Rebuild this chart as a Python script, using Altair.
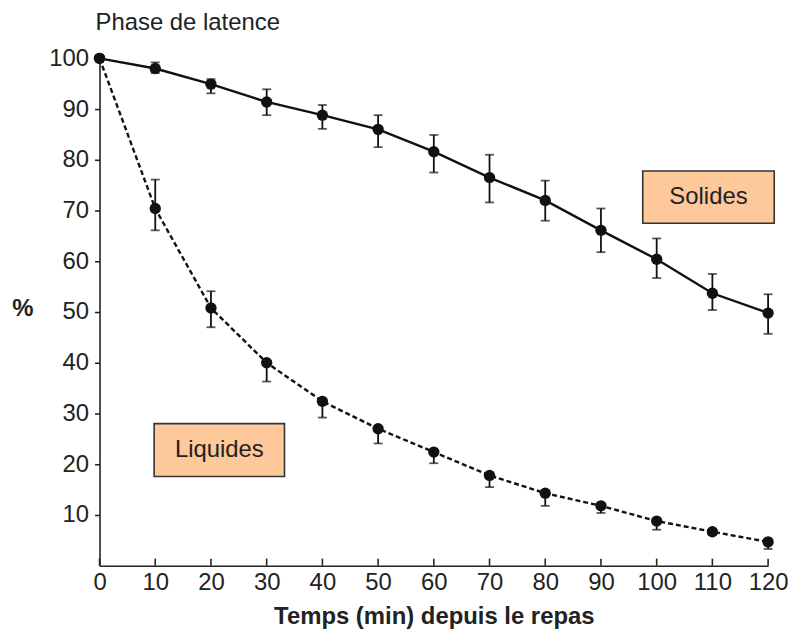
import altair as alt
import pandas as pd

FONT = "Liberation Sans"

minutes = [0, 10, 20, 30, 40, 50, 60, 70, 80, 90, 100, 110, 120]

solid_mean = [100, 98.0, 94.9, 91.4, 88.8, 86.0, 81.6, 76.5, 72.0, 66.1, 60.4, 53.7, 49.8]
solid_low = [100, 97.1, 93.1, 88.8, 86.1, 82.5, 77.5, 71.6, 68.0, 61.8, 56.7, 50.4, 45.7]
solid_high = [100, 99.2, 95.9, 93.9, 90.8, 88.8, 84.9, 81.0, 75.9, 70.4, 64.5, 57.5, 53.5]

liquid_mean = [100, 70.4, 50.8, 40.0, 32.4, 27.0, 22.4, 17.8, 14.3, 11.8, 8.8, 6.7, 4.7]
liquid_low = [100, 66.1, 47.0, 36.3, 29.2, 24.1, 20.2, 15.5, 11.8, 10.4, 7.1, 6.1, 3.3]
liquid_high = [100, 76.1, 54.1, 40.0, 32.4, 27.0, 22.4, 17.8, 14.3, 11.8, 8.8, 6.7, 4.7]

x_ticks = [0, 10, 20, 30, 40, 50, 60, 70, 80, 90, 100, 110, 120]
y_ticks = [10, 20, 30, 40, 50, 60, 70, 80, 90, 100]

labels = ["Solides", "Liquides"]
label_x0 = [97.5, 9.8]
label_x1 = [121.1, 33.2]
label_y0 = [67.5, 17.6]
label_y1 = [77.8, 28.0]

rows = []
for i, t in enumerate(minutes):
    rows.append({"serie": "Solides", "t": t, "v": solid_mean[i], "lo": solid_low[i], "hi": solid_high[i]})
    rows.append({"serie": "Liquides", "t": t, "v": liquid_mean[i], "lo": liquid_low[i], "hi": liquid_high[i]})
df = pd.DataFrame(rows)

boxes = pd.DataFrame({
    "label": labels,
    "x0": label_x0, "x1": label_x1, "y0": label_y0, "y1": label_y1,
})
boxes["xc"] = (boxes["x0"] + boxes["x1"]) / 2
boxes["yc"] = (boxes["y0"] + boxes["y1"]) / 2

ticks_df = pd.DataFrame({"t": x_ticks})

xscale = alt.Scale(domain=[0, 120], nice=False, zero=False)
yscale = alt.Scale(domain=[0, 100], nice=False)

X = alt.X("t:Q", scale=xscale, axis=alt.Axis(
    values=x_ticks, title="Temps (min) depuis le repas", ticks=False,
    labelPadding=5, labelFontSize=24, labelFont=FONT, labelColor="#222",
    titleFontSize=24, titleFont=FONT, titleFontWeight="bold", titleColor="#222",
    titlePadding=10, domainColor="#222", domainWidth=1.6, grid=False,
    labelFlush=False, labelOverlap=False))
Y = alt.Y("v:Q", scale=yscale, axis=alt.Axis(
    values=y_ticks, title="%", titleAngle=0, titleX=-77.5, titleY=251,
    titleAlign="center", titleBaseline="middle",
    tickSize=5, tickColor="#222", tickWidth=1.6, labelPadding=6,
    labelFontSize=24, labelFont=FONT, labelColor="#222",
    titleFontSize=24, titleFont=FONT, titleFontWeight="bold", titleColor="#222",
    domainColor="#222", domainWidth=1.6, grid=False, labelFlush=False, labelOverlap=False))

base = alt.Chart(df)

solid_line = base.transform_filter(alt.datum.serie == "Solides").mark_line(
    color="#111", strokeWidth=2.4).encode(x=X, y=Y)
liquid_line = base.transform_filter(alt.datum.serie == "Liquides").mark_line(
    color="#111", strokeWidth=2.4, strokeDash=[5, 3]).encode(x=X, y=Y)

bars = base.mark_rule(color="#111", strokeWidth=1.8).encode(
    x="t:Q", y="lo:Q", y2="hi:Q")
cap_lo = base.mark_tick(color="#111", thickness=1.8, size=9, orient="horizontal").encode(
    x="t:Q", y="lo:Q")
cap_hi = base.mark_tick(color="#111", thickness=1.8, size=9, orient="horizontal").encode(
    x="t:Q", y="hi:Q")
points = base.mark_point(filled=True, color="#111", size=130, opacity=1, shape="circle").encode(
    x="t:Q", y="v:Q")

xt = alt.Chart(ticks_df).mark_rule(color="#222", strokeWidth=1.6).encode(
    x="t:Q", y=alt.datum(0), y2=alt.datum(1.4))

rects = alt.Chart(boxes).mark_rect(fill="#FDC89A", stroke="#333", strokeWidth=1.6).encode(
    x="x0:Q", x2="x1:Q", y="y0:Q", y2="y1:Q")
texts = alt.Chart(boxes).mark_text(fontSize=24, font=FONT, color="#222",
                                   align="center", baseline="middle").encode(
    x="xc:Q", y="yc:Q", text="label:N")

chart = alt.layer(xt, solid_line, liquid_line, bars, cap_lo, cap_hi, points, rects, texts).properties(
    width=672, height=510,
    padding={"left": 92, "top": 49, "right": 20, "bottom": 62},
    autosize=alt.AutoSizeParams(type="none"),
    background="white",
    title=alt.TitleParams("Phase de latence", anchor="start", frame="group", fontSize=24, font=FONT,
                          fontWeight="normal", color="#222", dx=-4, offset=11),
).configure_view(strokeWidth=0, stroke="transparent")

chart.save("out.html", embed_options={"renderer": "svg", "actions": False})
